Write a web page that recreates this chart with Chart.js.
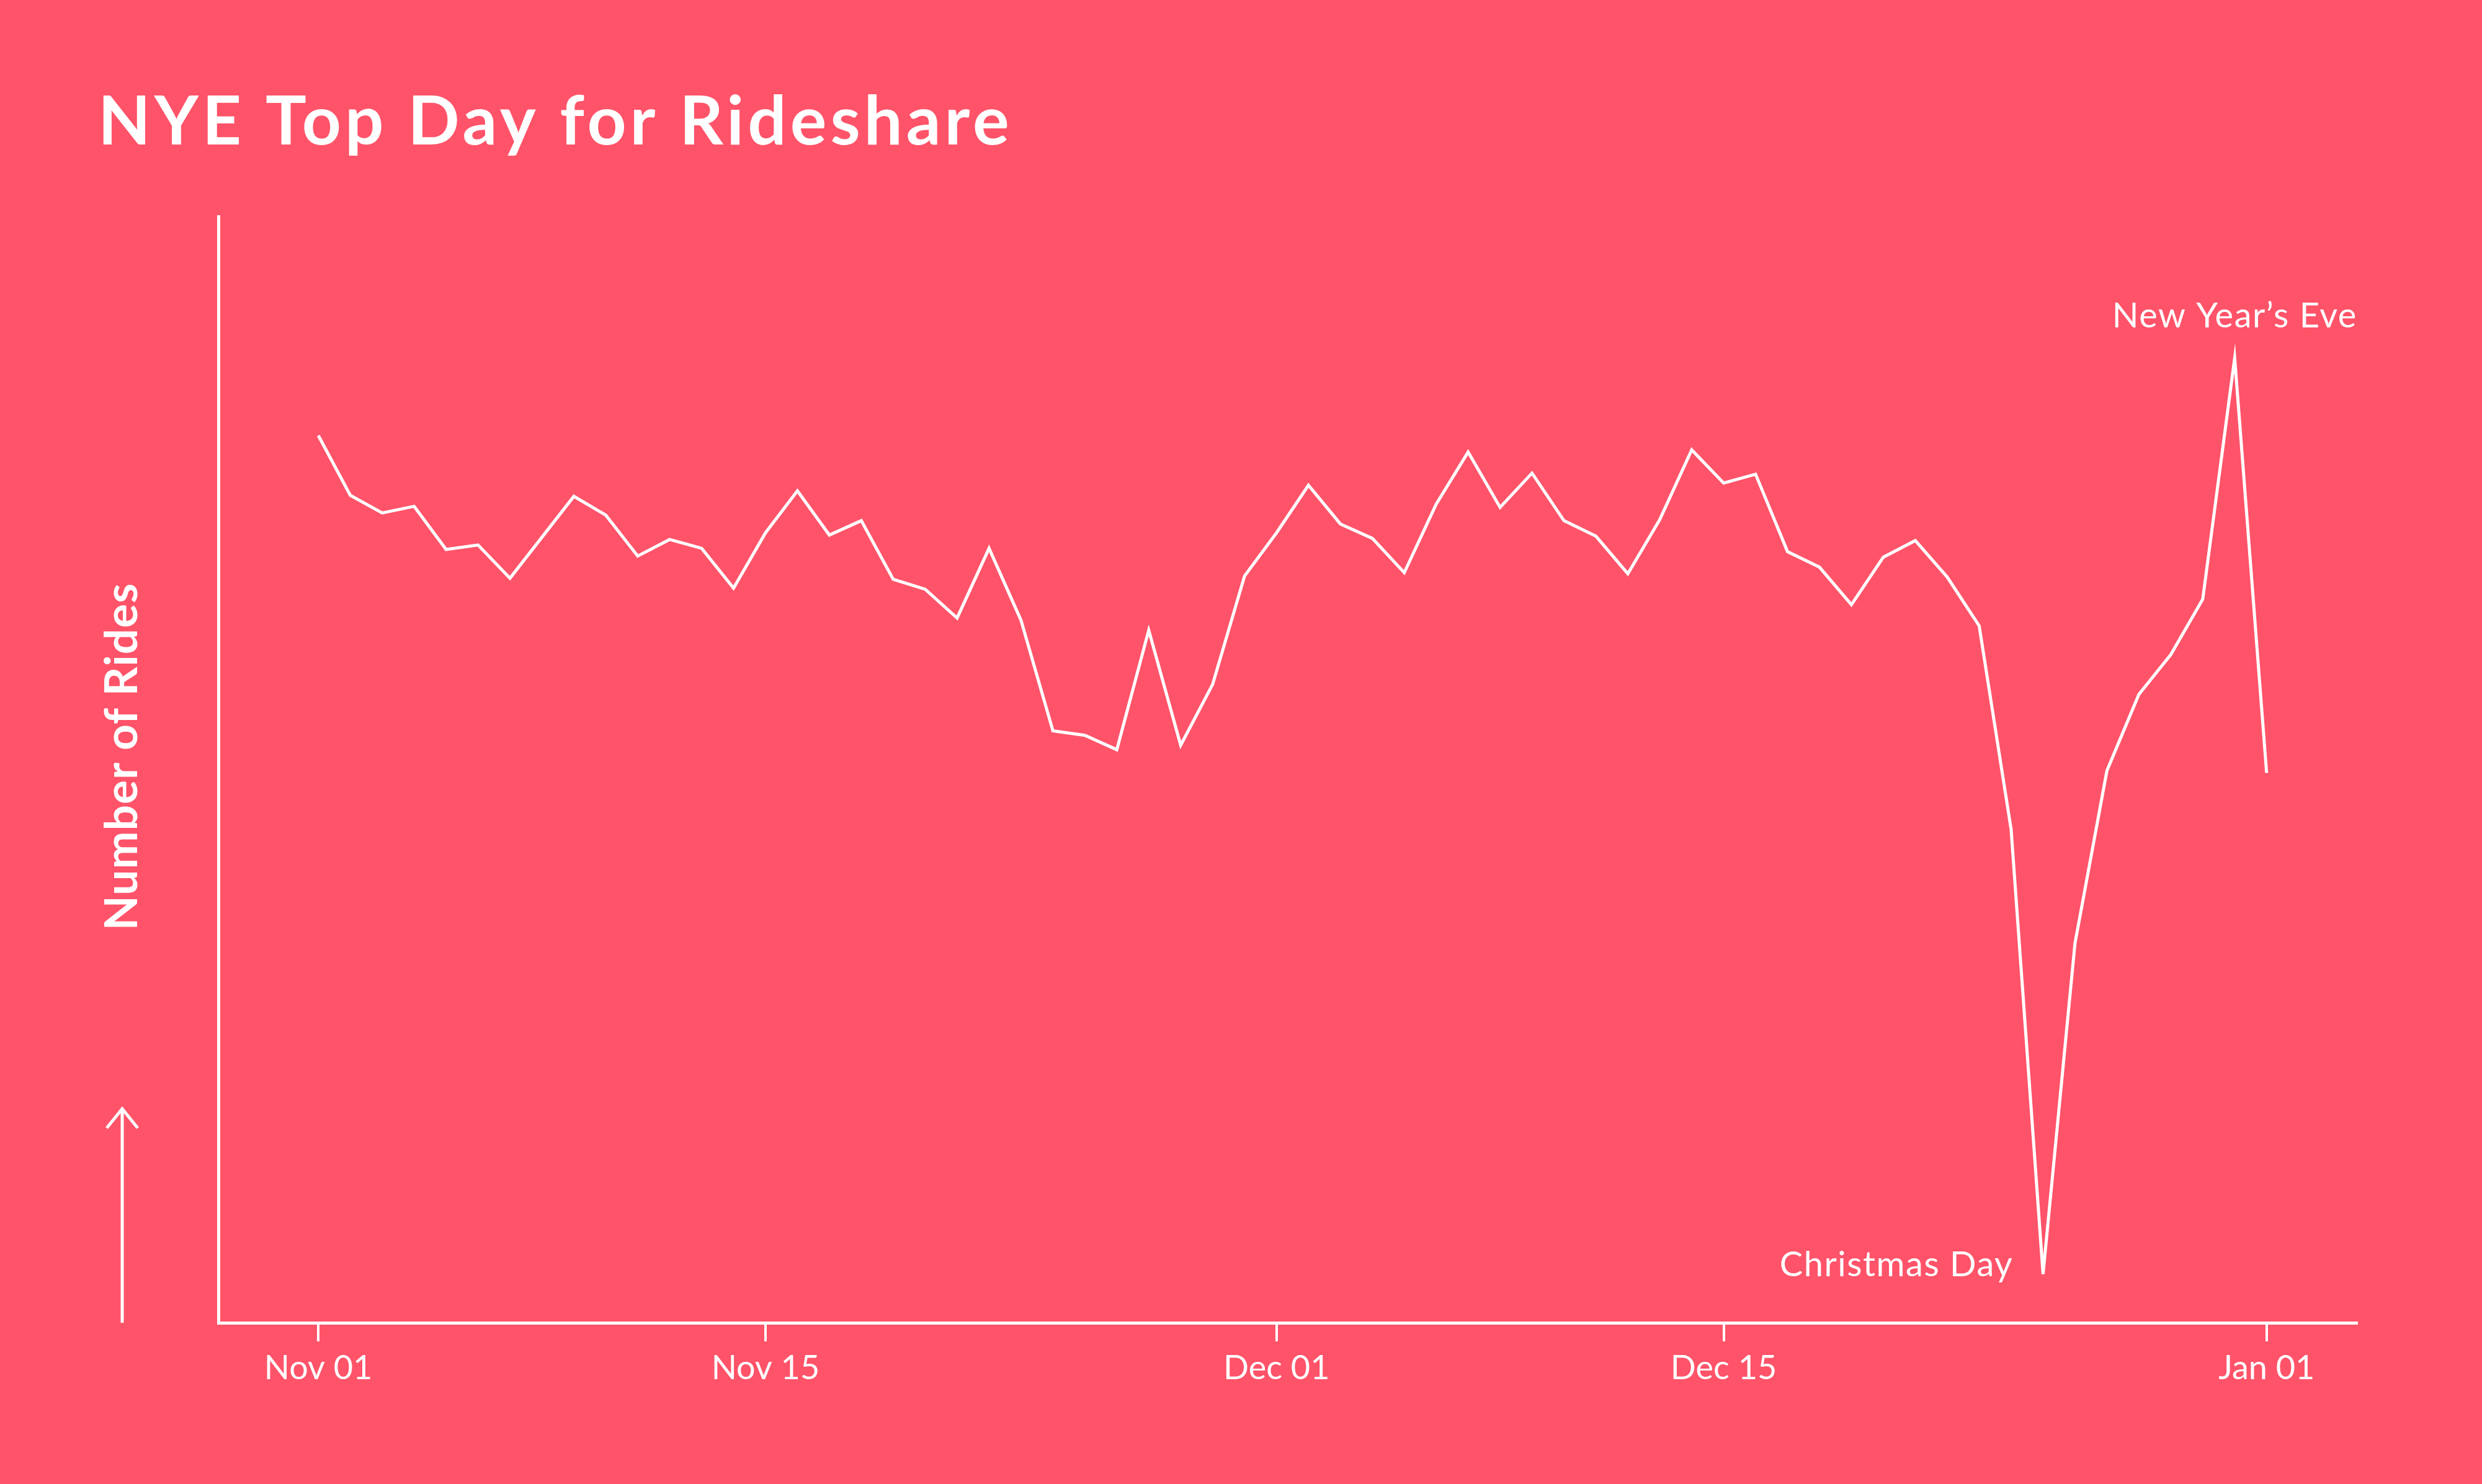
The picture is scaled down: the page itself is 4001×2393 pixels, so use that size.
<!DOCTYPE html>
<html>
<head>
<meta charset="utf-8">
<title>NYE Top Day for Rideshare</title>
<script src="https://cdn.jsdelivr.net/npm/chart.js@4/dist/chart.umd.min.js"></script>
<style>
  html, body { margin: 0; padding: 0; background: #ff5369; }
  #wrap { width: 4001px; height: 2393px; }
</style>
</head>
<body>
<div id="wrap"><canvas id="ridesChart" width="4001" height="2393"></canvas></div>
<script>
// daily ride index, Nov 01 .. Jan 01 (one value per day)
const novRides = [80.2, 74.8, 73.2, 73.8, 69.9, 70.3, 67.3, 71.0, 74.7, 73.0,
                  69.3, 70.8, 70.0, 66.4, 71.4, 75.2, 71.2, 72.5, 67.2, 66.3,
                  63.7, 70.0, 63.5, 53.5, 53.1, 51.8, 62.6, 52.2, 57.7, 67.5];
const decRides = [71.4, 75.7, 72.2, 70.9, 67.8, 74.0, 78.7, 73.7, 76.8, 72.5,
                  71.1, 67.7, 72.6, 78.9, 75.9, 76.7, 69.7, 68.3, 64.9, 69.2,
                  70.7, 67.4, 63.0, 44.6, 4.4, 34.3, 49.9, 56.8, 60.4, 65.4, 87.2];
const janRides = [49.7];

const rides = [...novRides, ...decRides, ...janRides];

// x ticks: day index from Nov 01
const tickDays = [0, 14, 30, 44, 61];
const tickLabels = ["Nov 01", "Nov 15", "Dec 01", "Dec 15", "Jan 01"];

// callouts: day index and text
const notes = [
  { day: 54, text: "Christmas Day", side: "left" },
  { day: 60, text: "New Year\u2019s Eve", side: "top" }
];

const WHITE = "#ffffff";
const FONT = "Lato, 'Open Sans', sans-serif";

const decorations = {
  id: "decorations",
  afterDraw(chart) {
    const ctx = chart.ctx;
    const xs = chart.scales.x;
    const ys = chart.scales.y;
    ctx.save();
    ctx.fillStyle = WHITE;
    ctx.strokeStyle = WHITE;

    // title
    ctx.font = "bold 110px " + FONT;
    ctx.letterSpacing = "6px";
    ctx.textAlign = "left";
    ctx.textBaseline = "alphabetic";
    ctx.fillText("NYE Top Day for Rideshare", 158, 233);

    // y axis label
    ctx.save();
    ctx.translate(221, 1220);
    ctx.rotate(-Math.PI / 2);
    ctx.font = "bold 73px " + FONT;
    ctx.letterSpacing = "1px";
    ctx.textAlign = "center";
    ctx.fillText("Number of Rides", 0, 0);
    ctx.restore();

    // arrow
    ctx.lineWidth = 5;
    ctx.beginPath();
    ctx.moveTo(197, 2133);
    ctx.lineTo(197, 1788);
    ctx.stroke();
    ctx.beginPath();
    ctx.moveTo(172, 1819);
    ctx.lineTo(197, 1788);
    ctx.lineTo(222, 1819);
    ctx.stroke();

    // callouts
    ctx.font = "56px " + FONT;
    ctx.letterSpacing = "1.5px";
    notes.forEach(n => {
      const px = xs.getPixelForValue(n.day);
      const py = ys.getPixelForValue(rides[n.day]);
      if (n.side === "top") {
        ctx.textAlign = "center";
        ctx.fillText(n.text, px, py - 49);
      } else {
        ctx.textAlign = "right";
        ctx.fillText(n.text, px - 48, py + 3);
      }
    });
    ctx.restore();
  }
};

new Chart(document.getElementById("ridesChart").getContext("2d"), {
  type: "line",
  data: {
    datasets: [{
      label: "Rides",
      data: rides.map((v, i) => ({ x: i, y: v })),
      borderColor: WHITE,
      borderWidth: 5,
      pointRadius: 0,
      tension: 0,
      fill: false
    }]
  },
  options: {
    responsive: false,
    devicePixelRatio: 1,
    animation: false,
    layout: { padding: { left: 0, top: 349, right: 202, bottom: 0 } },
    plugins: {
      legend: { display: false },
      tooltip: { enabled: false },
      title: { display: false }
    },
    scales: {
      x: {
        type: "linear",
        min: -3.13,
        max: 63.82,
        afterFit(scale) { scale.height = 260; },
        afterBuildTicks(scale) {
          scale.ticks = tickDays.map(d => ({ value: d }));
        },
        grid: {
          drawOnChartArea: false,
          drawTicks: true,
          tickLength: 30,
          color: WHITE,
          lineWidth: 4
        },
        border: { display: true, color: WHITE, width: 5 },
        ticks: {
          color: WHITE,
          padding: 11,
          maxRotation: 0,
          autoSkip: false,
          font: { family: FONT, size: 54 },
          callback: (v) => tickLabels[tickDays.indexOf(v)] || ""
        }
      },
      y: {
        min: 0,
        max: 100,
        afterFit(scale) { scale.width = 352; },
        grid: { display: false },
        border: { display: true, color: WHITE, width: 5 },
        ticks: { display: false }
      }
    }
  },
  plugins: [decorations]
});
</script>
</body>
</html>
